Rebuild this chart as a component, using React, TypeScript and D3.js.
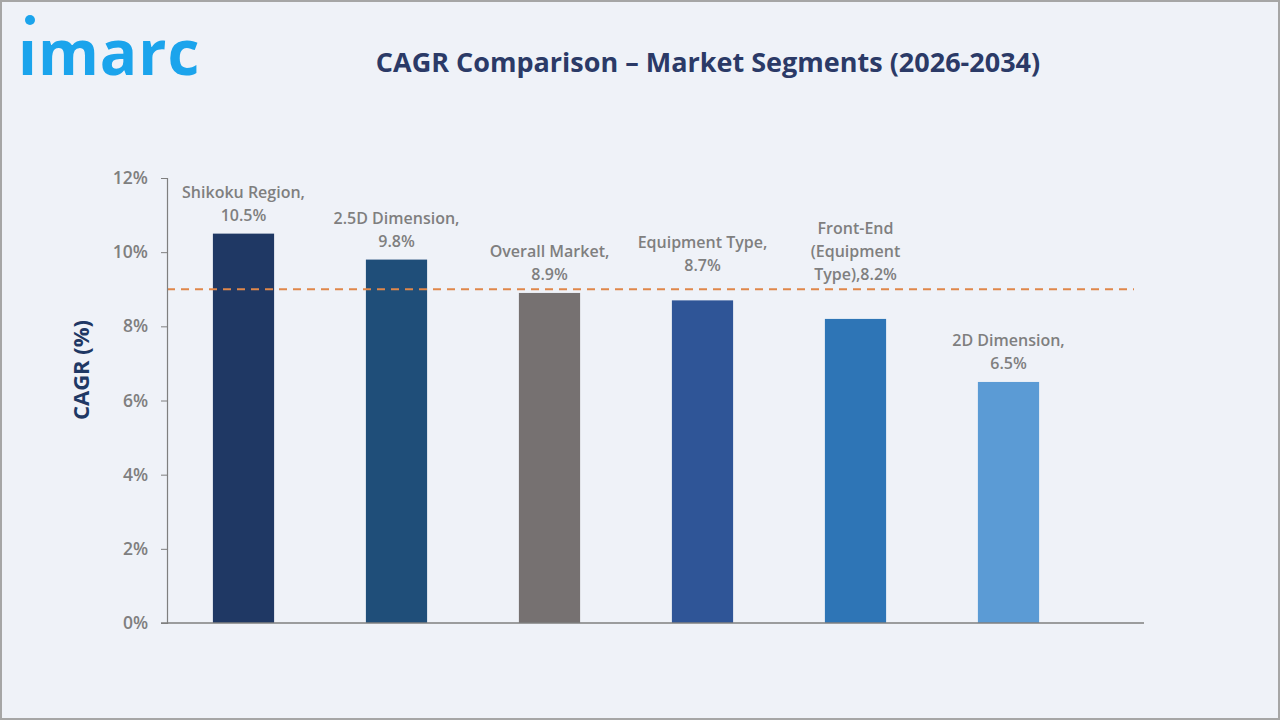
import React, { useEffect, useRef } from 'react';
import * as d3 from 'd3';

// values
const categories = ['Shikoku Region', '2.5D Dimension', 'Overall Market', 'Equipment Type', 'Front-End (Equipment Type)', '2D Dimension'];
const cagr = [10.5, 9.8, 8.9, 8.7, 8.2, 6.5];
const labelLines = [
  ['Shikoku Region,', '10.5%'],
  ['2.5D Dimension,', '9.8%'],
  ['Overall Market,', '8.9%'],
  ['Equipment Type,', '8.7%'],
  ['Front-End', '(Equipment', 'Type),8.2%'],
  ['2D Dimension,', '6.5%'],
];
const yTicks = [0, 2, 4, 6, 8, 10, 12];
const referenceLine = 9;

const barColors = ['#1f3864', '#1f4e79', '#767171', '#2f5597', '#2e75b6', '#5b9bd5'];
// extra lift of a few labels, as placed in the original
const labelLift = [0, 0, 0, 16, 26, 0];

const width = 1280;
const height = 720;
const margin = { top: 178, right: 136, bottom: 97, left: 167 };
const font = '"Open Sans", "Noto Sans", sans-serif';
const grey = '#7f7f7f';

const App = () => {
  const axisRef = useRef(null);

  const xScale = d3.scaleBand()
    .domain(categories)
    .range([margin.left, margin.left + 918])
    .paddingInner(0.6)
    .paddingOuter(0.3);

  const yScale = d3.scaleLinear()
    .domain([0, 12])
    .range([height - margin.bottom, margin.top]);

  useEffect(() => {
    const g = d3.select(axisRef.current);
    g.selectAll('*').remove();
    const yAxis = d3.axisLeft(yScale)
      .tickValues(yTicks)
      .tickFormat(d => d + '%')
      .tickSize(6)
      .tickPadding(13);
    g.append('g')
      .attr('transform', `translate(${margin.left}, 0)`)
      .call(yAxis)
      .call(a => a.select('.domain').attr('stroke', grey).attr('stroke-width', 1.2))
      .call(a => a.selectAll('.tick line').attr('stroke', grey))
      .call(a => a.selectAll('.tick text')
        .attr('fill', grey)
        .attr('font-size', 17.5)
        .attr('font-weight', 600)
        .attr('font-family', font));
    g.append('line')
      .attr('x1', margin.left - 6)
      .attr('x2', width - margin.right)
      .attr('y1', yScale(0))
      .attr('y2', yScale(0))
      .attr('stroke', grey)
      .attr('stroke-width', 1.5);
  });

  return (
    <div style={{ position: 'absolute', left: 0, top: 0 }}>
      <style>{'body{margin:0}'}</style>
      <svg width={width} height={height} viewBox={`0 0 ${width} ${height}`} style={{ display: 'block' }}>
        <rect x={1} y={1} width={width - 2} height={height - 2} fill="#eff2f8" stroke="#a6a6a6" strokeWidth={2} />

        {/* logo */}
        <circle cx={30} cy={20} r={5} fill="#1ba4ec" />
        <text x={18} y={75} fill="#1ba4ec" fontFamily={font} fontWeight={700} fontSize={62} letterSpacing={1}>
          ımarc
        </text>

        <text x={708} y={72} textAnchor="middle" fill="#2b3a67" fontFamily={font} fontWeight={700} fontSize={27}>
          CAGR Comparison – Market Segments (2026-2034)
        </text>

        <text
          transform={`translate(89, ${370}) rotate(-90)`}
          textAnchor="middle"
          fill="#1f3864"
          fontFamily={font}
          fontWeight={700}
          fontSize={22}
        >
          CAGR (%)
        </text>

        <g>
          {categories.map((c, i) => (
            <rect
              key={c}
              x={xScale(c)}
              y={yScale(cagr[i])}
              width={xScale.bandwidth()}
              height={yScale(0) - yScale(cagr[i])}
              fill={barColors[i]}
            />
          ))}
        </g>

        <line
          x1={margin.left}
          x2={width - margin.right - 10}
          y1={yScale(referenceLine)}
          y2={yScale(referenceLine)}
          stroke="#e0874a"
          strokeWidth={2}
          strokeDasharray="8 6"
        />

        <g ref={axisRef} />

        <g fontFamily={font} fontWeight={600} fontSize={16} fill={grey} textAnchor="middle">
          {categories.map((c, i) => {
            const lines = labelLines[i];
            const cx = xScale(c) + xScale.bandwidth() / 2;
            const bottom = yScale(cagr[i]) - 13 - labelLift[i];
            return (
              <text key={c} x={cx}>
                {lines.map((l, j) => (
                  <tspan key={j} x={cx} y={bottom - (lines.length - 1 - j) * 23}>{l}</tspan>
                ))}
              </text>
            );
          })}
        </g>
      </svg>
    </div>
  );
};

export default App;
